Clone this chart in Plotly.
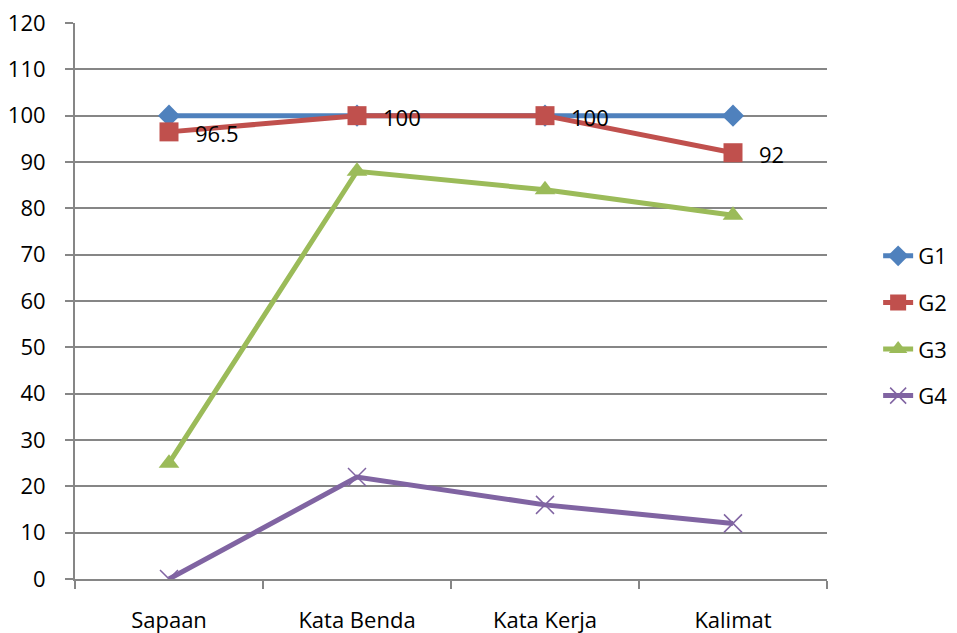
import plotly.graph_objects as go

categories = ["Sapaan", "Kata Benda", "Kata Kerja", "Kalimat"]
g1 = [100, 100, 100, 100]
g2 = [96.5, 100, 100, 92]
g3 = [25, 88, 84, 78.5]
g4 = [0, 22, 16, 12]
g2_labels = ["96.5", "100", "100", "92"]

FONT = "Open Sans, Liberation Sans, sans-serif"
FS = 22

fig = go.Figure()
fig.add_trace(go.Scatter(x=categories, y=g1, name="G1", mode="lines+markers", legendgroup="a",
                         line=dict(color="#4F81BD", width=5),
                         marker=dict(symbol="diamond", size=17, color="#4F81BD")))
fig.add_trace(go.Scatter(x=categories, y=g2, name="G2", mode="lines+markers", legendgroup="b",
                         line=dict(color="#C0504D", width=5),
                         marker=dict(symbol="square", size=19, color="#C0504D")))
fig.add_trace(go.Scatter(x=categories, y=g3, name="G3", mode="lines+markers", legendgroup="c",
                         line=dict(color="#9BBB59", width=5),
                         marker=dict(symbol="triangle-up", size=18, color="#9BBB59")))
fig.add_trace(go.Scatter(x=categories, y=g4, name="G4", mode="lines+markers", legendgroup="d",
                         line=dict(color="#8064A2", width=5),
                         marker=dict(symbol="x-thin", size=18, color="#8064A2",
                                     line=dict(color="#8064A2", width=1.5))))

for c, v, t in zip(categories, g2, g2_labels):
    fig.add_annotation(x=c, y=v, text=t, showarrow=False, xanchor="left",
                       xshift=24, yshift=-1, font=dict(family=FONT, size=FS, color="black"))

fig.update_layout(
    width=957, height=633,
    margin=dict(l=67, r=138, t=15, b=62, autoexpand=False),
    plot_bgcolor="white", paper_bgcolor="white",
    font=dict(family=FONT, size=FS, color="black"),
    legend=dict(x=1.068, y=0.455, xanchor="left", yanchor="middle",
                font=dict(family=FONT, size=FS),
                tracegroupgap=15, bgcolor="rgba(0,0,0,0)"),
)
fig.update_xaxes(type="category", range=[-0.5, 3.5], tickson="boundaries",
                 ticks="outside", ticklen=8, tickcolor="#868686", tickwidth=2,
                 showline=True, linecolor="#868686", linewidth=2,
                 showgrid=False, ticklabelstandoff=21, automargin=False,
                 ticklabeloverflow="allow",
                 tickfont=dict(family=FONT, size=FS))
fig.update_yaxes(range=[0, 120], dtick=10, ticks="outside", ticklen=8,
                 tickcolor="#868686", tickwidth=2,
                 showline=True, linecolor="#868686", linewidth=2,
                 showgrid=True, gridcolor="#868686", gridwidth=2,
                 zeroline=False, ticklabelstandoff=15, automargin=False,
                 ticklabeloverflow="allow",
                 tickfont=dict(family=FONT, size=FS))

fig.write_html("out.html")
